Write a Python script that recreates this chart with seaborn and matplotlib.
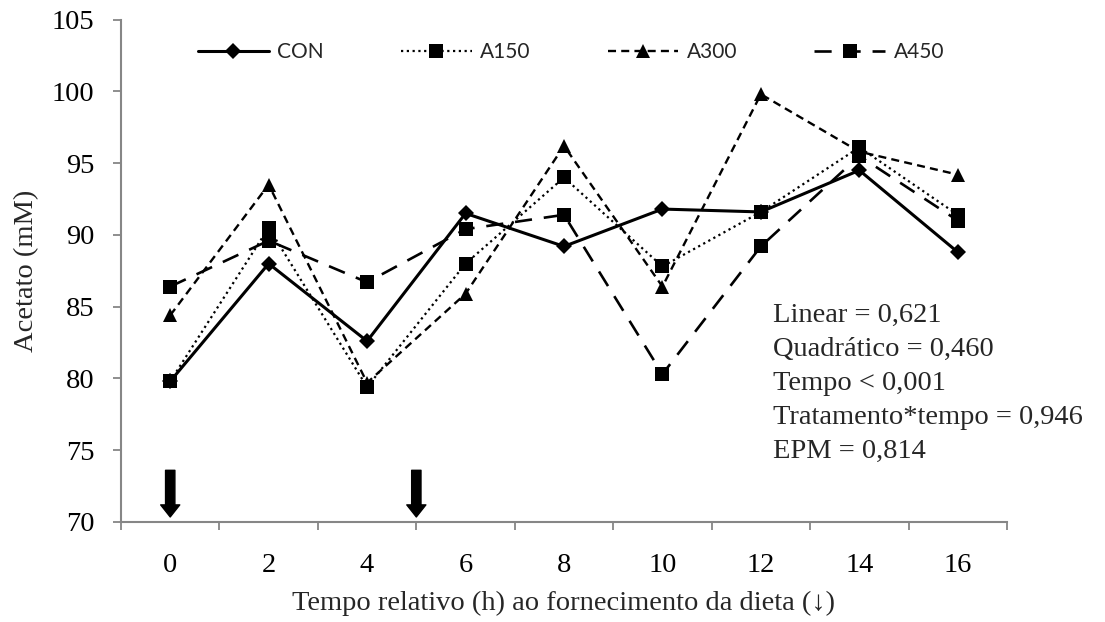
import matplotlib
matplotlib.use("Agg")
import matplotlib.pyplot as plt
import seaborn as sns

# Dados (acetato, mM) por hora relativa ao fornecimento da dieta
horas = [0, 2, 4, 6, 8, 10, 12, 14, 16]
con = [79.8, 88.0, 82.6, 91.5, 89.2, 91.8, 91.6, 94.5, 88.8]
a150 = [79.8, 90.5, 79.4, 88.0, 94.0, 87.8, 91.6, 96.1, 91.4]
a300 = [84.4, 93.5, 79.7, 85.9, 96.2, 86.4, 99.8, 95.8, 94.2]
a450 = [86.4, 89.6, 86.7, 90.4, 91.4, 80.3, 89.2, 95.5, 91.0]
tratamentos = ["CON", "A150", "A300", "A450"]
alimentacao = [0, 5]  # horários de fornecimento (setas)
estatisticas = ["Linear = 0,621", "Quadrático = 0,460", "Tempo < 0,001",
                "Tratamento*tempo = 0,946", "EPM = 0,814"]

sns.set_theme(style="white")
plt.rcParams["font.family"] = ["Liberation Serif", "DejaVu Serif"]
cinza = "#868686"

fig = plt.figure(figsize=(11.05, 6.22), dpi=100)
ax = fig.add_axes([0.1095, 0.1608, 0.8018, 0.8077])

# estilo de cada série: marcador, tamanho, espessura, tracejado
estilos = {
    "CON": ("D", 8.5, 2.2, None),
    "A150": ("s", 10, 1.6, (1, 1.6)),
    "A300": ("^", 10.5, 1.7, (3.4, 2.2)),
    "A450": ("s", 10, 1.9, (6.5, 4.5)),
}

for nome, valores in zip(tratamentos, [con, a150, a300, a450]):
    mk, ms, lw, dash = estilos[nome]
    sns.lineplot(x=horas, y=valores, ax=ax, color="black", marker=mk,
                 markersize=ms, linewidth=lw, markeredgewidth=0, label=nome)
    if dash is not None:
        ax.lines[-1].set_dashes(dash)

ax.set_xlim(-1, 17)
ax.set_ylim(70, 105)
ax.set_xticks(horas)
ax.set_xticks(range(-1, 18, 2), minor=True)
ax.set_yticks(range(70, 106, 5))
ax.tick_params(axis="x", which="major", length=0, labelsize=20.5, pad=22.5, colors="black")
ax.tick_params(axis="x", which="minor", length=6, width=1.3, color=cinza, direction="out")
ax.tick_params(axis="y", length=6, width=1.3, color=cinza, labelsize=20.5, pad=13,
               direction="out", labelcolor="black")
ax.xaxis.set_ticks_position("bottom")
ax.yaxis.set_ticks_position("left")

for lado in ["top", "right"]:
    ax.spines[lado].set_visible(False)
for lado in ["left", "bottom"]:
    ax.spines[lado].set_color(cinza)
    ax.spines[lado].set_linewidth(1.5)

ax.set_xlabel("Tempo relativo (h) ao fornecimento da dieta (↓)", fontsize=20.5, labelpad=9)
ax.set_ylabel("Acetato (mM)", fontsize=20.5, labelpad=9)

# setas de fornecimento da dieta
for h in alimentacao:
    ax.annotate("", xy=(h, 70.35), xytext=(h, 73.6),
                arrowprops=dict(arrowstyle="simple,head_length=0.62,head_width=0.98,tail_width=0.48",
                                mutation_scale=14, color="black", shrinkA=0, shrinkB=0))

# estatísticas
for i, linha in enumerate(estatisticas):
    ax.text(0.736, 83.95 - i * 2.375, linha, transform=ax.get_yaxis_transform(),
            fontsize=20.5, va="baseline", ha="left")

leg = ax.legend(loc="center left", bbox_to_anchor=(0.0869, 0.9355), ncol=4, frameon=False,
                prop={"family": "Lato", "size": 15}, handlelength=3.4, handletextpad=0.4,
                columnspacing=3.7, borderpad=0, borderaxespad=0)

fig.savefig("out.png", dpi=100)
